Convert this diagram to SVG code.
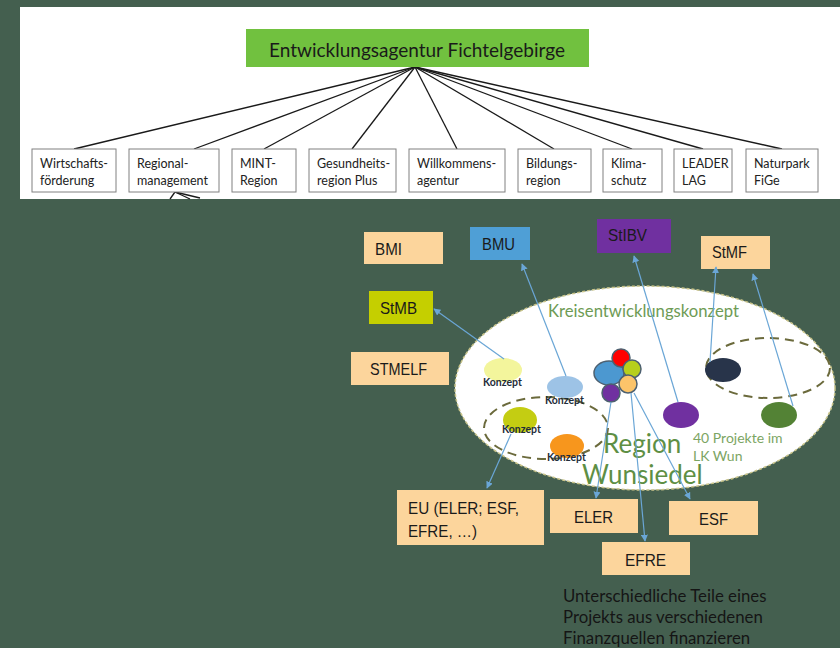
<svg xmlns="http://www.w3.org/2000/svg" width="840" height="648" viewBox="0 0 840 648">
<defs>
<style>
.bg{fill:#445f4f}
.panel{fill:#ffffff}
.org{fill:#ffffff;stroke:#808080;stroke-width:1}
.orgt{font-family:Lato,"Open Sans",sans-serif;font-size:12.5px;fill:#222}
.tree{stroke:#1a1a1a;stroke-width:1.3;fill:none}
.agency{font-family:"Liberation Sans",Arial,sans-serif;font-size:17px;fill:#1a1a1a}
.peach{fill:#fcd59c}
.arrow{stroke:#6aa6d6;stroke-width:1.2;fill:none;marker-end:url(#ah)}
.konz{font-family:Lato,"Open Sans",sans-serif;font-size:10.5px;fill:#1f2d3a;font-weight:bold}
.dash{fill:none;stroke:#6b6a3c;stroke-width:2;stroke-dasharray:9 6}
.cl{stroke:#4d6070;stroke-width:1.5}
</style>
<marker id="ah" viewBox="0 0 10 10" refX="9" refY="5" markerWidth="7" markerHeight="7" orient="auto" markerUnits="userSpaceOnUse">
<path d="M0,0 L10,5 L0,10 z" fill="#6aa6d6"/>
</marker>
</defs>
<rect class="bg" x="0" y="0" width="840" height="648"/>
<rect class="panel" x="20" y="7" width="820" height="192"/>

<g id="connectors">
<g class="tree">
<line x1="415" y1="67" x2="74" y2="149"/>
<line x1="415" y1="67" x2="194" y2="149"/>
<line x1="415" y1="67" x2="264" y2="149"/>
<line x1="415" y1="67" x2="352" y2="149"/>
<line x1="415" y1="67" x2="457" y2="149"/>
<line x1="415" y1="67" x2="554" y2="149"/>
<line x1="415" y1="67" x2="632" y2="149"/>
<line x1="415" y1="67" x2="703" y2="149"/>
<line x1="415" y1="67" x2="782" y2="149"/>
<line x1="175" y1="192" x2="170" y2="199"/>
<line x1="175" y1="192" x2="190" y2="199"/>
<line x1="175" y1="192" x2="200" y2="198"/>
</g>
</g>

<g id="n-top">
<rect x="246" y="29" width="343" height="38" fill="#71c13f"/>
<text x="417" y="57" text-anchor="middle" font-family="Lato,'Open Sans',sans-serif" font-size="19" fill="#1a1a1a">Entwicklungsagentur Fichtelgebirge</text>
</g>
<g id="n-wirt"><rect class="org" x="32" y="149" width="84" height="43"/><text class="orgt" x="40" y="168">Wirtschafts-</text><text class="orgt" x="40" y="185">förderung</text></g>
<g id="n-regio"><rect class="org" x="129" y="149" width="90" height="43"/><text class="orgt" x="137" y="168">Regional-</text><text class="orgt" x="137" y="185">management</text></g>
<g id="n-mint"><rect class="org" x="232" y="149" width="64" height="43"/><text class="orgt" x="240" y="168">MINT-</text><text class="orgt" x="240" y="185">Region</text></g>
<g id="n-gesund"><rect class="org" x="309" y="149" width="87" height="43"/><text class="orgt" x="317" y="168">Gesundheits-</text><text class="orgt" x="317" y="185">region Plus</text></g>
<g id="n-willk"><rect class="org" x="409" y="149" width="96" height="43"/><text class="orgt" x="417" y="168">Willkommens-</text><text class="orgt" x="417" y="185">agentur</text></g>
<g id="n-bild"><rect class="org" x="518" y="149" width="73" height="43"/><text class="orgt" x="526" y="168">Bildungs-</text><text class="orgt" x="526" y="185">region</text></g>
<g id="n-klima"><rect class="org" x="603" y="149" width="59" height="43"/><text class="orgt" x="611" y="168">Klima-</text><text class="orgt" x="611" y="185">schutz</text></g>
<g id="n-leader"><rect class="org" x="674" y="149" width="58" height="43"/><text class="orgt" x="682" y="168">LEADER</text><text class="orgt" x="682" y="185">LAG</text></g>
<g id="n-natur"><rect class="org" x="746" y="149" width="72" height="43"/><text class="orgt" x="754" y="168">Naturpark</text><text class="orgt" x="754" y="185">FiGe</text></g>

<g id="n-bmi"><rect class="peach" x="364" y="232" width="79" height="32"/><text class="agency" x="375" y="255" textLength="27" lengthAdjust="spacingAndGlyphs">BMI</text></g>
<g id="n-bmu"><rect fill="#4f9fd6" x="470" y="227" width="60" height="33"/><text class="agency" x="482" y="250" textLength="33" lengthAdjust="spacingAndGlyphs">BMU</text></g>
<g id="n-stibv"><rect fill="#7030a0" x="597" y="219" width="74" height="34"/><text class="agency" x="608" y="241" textLength="39" lengthAdjust="spacingAndGlyphs">StIBV</text></g>
<g id="n-stmf"><rect class="peach" x="701" y="236" width="69" height="33"/><text class="agency" x="712" y="258" textLength="35" lengthAdjust="spacingAndGlyphs">StMF</text></g>
<g id="n-stmb"><rect fill="#c5cf00" x="369" y="291" width="64" height="33"/><text class="agency" x="380" y="314" textLength="37" lengthAdjust="spacingAndGlyphs">StMB</text></g>
<g id="n-stmelf"><rect class="peach" x="351" y="352" width="98" height="33"/><text class="agency" x="370" y="375" textLength="57" lengthAdjust="spacingAndGlyphs">STMELF</text></g>

<g id="n-kreis">
<ellipse cx="645" cy="388" rx="190" ry="102" fill="#ffffff" stroke="#c9c48a" stroke-width="1.5" stroke-dasharray="3 2"/>
<text x="548" y="317" font-family="Lato,'Open Sans',sans-serif" font-size="16.7" fill="#6e9b55">Kreisentwicklungskonzept</text>
<text x="603" y="453" font-family="Lato,'Open Sans',sans-serif" font-size="26" fill="#5e8f44">Region</text>
<text x="582" y="484" font-family="Lato,'Open Sans',sans-serif" font-size="26" fill="#5e8f44">Wunsiedel</text>
<text x="693" y="443" font-family="Lato,'Open Sans',sans-serif" font-size="14" fill="#7ca563">40 Projekte im</text>
<text x="693" y="461" font-family="Lato,'Open Sans',sans-serif" font-size="14" fill="#7ca563">LK Wun</text>
</g>
<g id="n-groupR"><ellipse class="dash" cx="768" cy="368" rx="62" ry="30"/></g>
<g id="n-groupL"><ellipse class="dash" cx="546" cy="428" rx="62" ry="31"/></g>

<g id="n-k1"><ellipse cx="503" cy="370" rx="19" ry="12" fill="#f3f59c"/><text class="konz" x="483" y="386">Konzept</text></g>
<g id="n-k2"><ellipse cx="565" cy="387" rx="18" ry="11" fill="#9dc3e6"/><text class="konz" x="545" y="404">Konzept</text></g>
<g id="n-k3"><ellipse cx="520" cy="420" rx="17" ry="13" fill="#c4cd12"/><text class="konz" x="502" y="433">Konzept</text></g>
<g id="n-k4"><ellipse cx="567" cy="446" rx="17" ry="12" fill="#f7961d"/><text class="konz" x="547" y="461">Konzept</text></g>
<g id="n-navy"><ellipse cx="723" cy="370" rx="18" ry="12" fill="#28344a"/></g>
<g id="n-purple"><ellipse cx="681" cy="415" rx="18" ry="13" fill="#7030a0"/></g>
<g id="n-green"><ellipse cx="779" cy="415" rx="18" ry="13" fill="#538235"/></g>
<g id="n-cluster">
<ellipse class="cl" cx="609" cy="373" rx="15" ry="12" fill="#4c98d0"/>
<circle class="cl" cx="621" cy="358" r="9" fill="#ff0000"/>
<circle class="cl" cx="632" cy="369" r="9" fill="#b7cf1c"/>
<circle class="cl" cx="628" cy="384" r="9" fill="#fcc46a"/>
<circle class="cl" cx="611" cy="393" r="9" fill="#7030a0"/>
</g>

<g id="n-eu"><rect class="peach" x="397" y="490" width="147" height="55"/><text class="agency" x="408" y="514" textLength="111" lengthAdjust="spacingAndGlyphs">EU (ELER; ESF,</text><text class="agency" x="408" y="537" textLength="69" lengthAdjust="spacingAndGlyphs">EFRE, …)</text></g>
<g id="n-eler"><rect class="peach" x="550" y="499" width="88" height="34"/><text class="agency" x="574" y="523" textLength="39" lengthAdjust="spacingAndGlyphs">ELER</text></g>
<g id="n-esf"><rect class="peach" x="669" y="501" width="89" height="34"/><text class="agency" x="699" y="525" textLength="29" lengthAdjust="spacingAndGlyphs">ESF</text></g>
<g id="n-efre"><rect class="peach" x="602" y="542" width="88" height="33"/><text class="agency" x="625" y="566" textLength="41" lengthAdjust="spacingAndGlyphs">EFRE</text></g>

<g id="arrows">
<line class="arrow" x1="504" y1="359" x2="434" y2="309"/>
<line class="arrow" x1="566" y1="376" x2="522" y2="264"/>
<line class="arrow" x1="678" y1="402" x2="634" y2="256"/>
<line class="arrow" x1="710" y1="362" x2="716" y2="267"/>
<line class="arrow" x1="793" y1="406" x2="753" y2="274"/>
<line class="arrow" x1="511" y1="434" x2="487" y2="488"/>
<line class="arrow" x1="611" y1="402" x2="596" y2="498"/>
<line class="arrow" x1="631" y1="393" x2="645" y2="541"/>
<line class="arrow" x1="634" y1="393" x2="690" y2="499"/>
</g>

<g id="n-note" font-family="Lato,'Open Sans',sans-serif" font-size="16.8" fill="#151515">
<text x="563" y="602">Unterschiedliche Teile eines</text>
<text x="563" y="623">Projekts aus verschiedenen</text>
<text x="563" y="644">Finanzquellen finanzieren</text>
</g>
</svg>
